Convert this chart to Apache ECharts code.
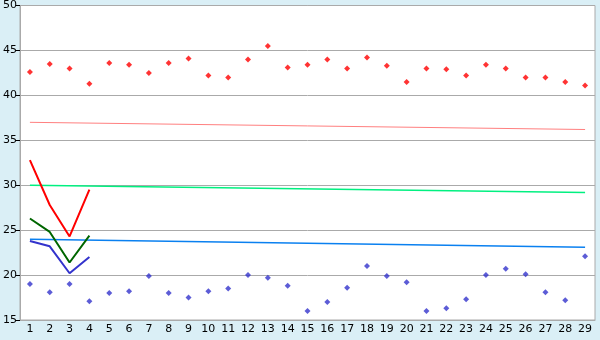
<!DOCTYPE html>
<html>
<head>
<meta charset="utf-8">
<script src="https://cdn.jsdelivr.net/npm/echarts@6/dist/echarts.min.js"></script>
<style>html,body{margin:0;padding:0;background:#DAEFF6;}#c{width:600px;height:340px;}</style>
</head>
<body>
<div id="c"></div>
<script>
var categories = [];
for (var i = 1; i <= 29; i++) categories.push(String(i));
var yTicks = [15, 20, 25, 30, 35, 40, 45, 50];

var redDots = [42.6, 43.5, 43.0, 41.3, 43.6, 43.4, 42.5, 43.6, 44.1, 42.2, 42.0, 44.0, 45.5, 43.1,
               43.4, 44.0, 43.0, 44.2, 43.3, 41.5, 43.0, 42.9, 42.2, 43.4, 43.0, 42.0, 42.0, 41.5, 41.1];
var blueDots = [19.0, 18.1, 19.0, 17.1, 18.0, 18.2, 19.9, 18.0, 17.5, 18.2, 18.5, 20.0, 19.7, 18.8,
                16.0, 17.0, 18.6, 21.0, 19.9, 19.2, 16.0, 16.3, 17.3, 20.0, 20.7, 20.1, 18.1, 17.2, 22.1];
var redLine = [32.8, 27.8, 24.3, 29.5];
var greenLine = [26.3, 24.8, 21.4, 24.4];
var blueLine = [23.8, 23.2, 20.2, 22.0];
var pinkTrend = [37.0, 36.2];
var greenTrend = [30.0, 29.2];
var blueTrend = [24.0, 23.1];

function trend(ends) {
  var d = [];
  for (var i = 0; i < categories.length; i++) d.push(null);
  d[0] = ends[0];
  d[categories.length - 1] = ends[1];
  return d;
}

var chart = echarts.init(document.getElementById('c'), null, {renderer: 'canvas'});
chart.setOption({
  backgroundColor: '#DAEFF6',
  animation: false,
  grid: {left: 20, right: 5, top: 5, bottom: 20, show: true, backgroundColor: '#FFFFFF', borderColor: '#AAAAAA', borderWidth: 1},
  xAxis: {
    type: 'category', data: categories, boundaryGap: true,
    axisLine: {lineStyle: {color: '#AAAAAA', width: 1}},
    axisTick: {alignWithLabel: true, length: 5, lineStyle: {color: '#000000'}},
    axisLabel: {color: '#000000', fontFamily: 'DejaVu Sans', fontSize: 11, margin: 4, interval: 0},
    splitLine: {show: false}
  },
  yAxis: {
    type: 'value', min: yTicks[0], max: yTicks[yTicks.length - 1], interval: 5,
    axisLine: {show: true, lineStyle: {color: '#AAAAAA', width: 1}},
    axisTick: {show: true, length: 4, lineStyle: {color: '#000000'}},
    axisLabel: {color: '#000000', fontFamily: 'DejaVu Sans', fontSize: 11, margin: 3},
    splitLine: {lineStyle: {color: '#AAAAAA', width: 1}}
  },
  series: [
    {type: 'line', data: trend(pinkTrend), connectNulls: true, symbol: 'none', lineStyle: {color: '#FF8080', width: 1}},
    {type: 'line', data: trend(greenTrend), connectNulls: true, symbol: 'none', lineStyle: {color: '#00F080', width: 1.5}},
    {type: 'line', data: trend(blueTrend), connectNulls: true, symbol: 'none', lineStyle: {color: '#0A80F0', width: 1.5}},
    {type: 'line', data: redLine, symbol: 'none', lineStyle: {color: '#FF0000', width: 2}},
    {type: 'line', data: greenLine, symbol: 'none', lineStyle: {color: '#006600', width: 2}},
    {type: 'line', data: blueLine, symbol: 'none', lineStyle: {color: '#3333CC', width: 2}},
    {type: 'scatter', data: redDots, symbol: 'diamond', symbolSize: 6, itemStyle: {color: '#FF0000'}},
    {type: 'scatter', data: blueDots, symbol: 'diamond', symbolSize: 6, itemStyle: {color: '#3333CC'}}
  ]
});
</script>
</body>
</html>
